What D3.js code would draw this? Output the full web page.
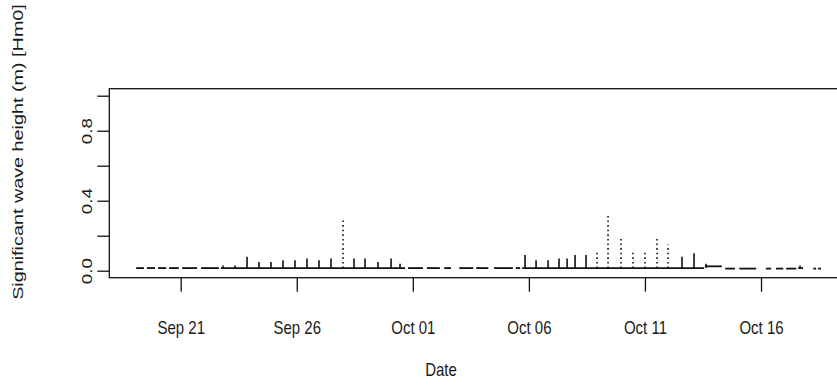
<!DOCTYPE html>
<html>
<head>
<meta charset="utf-8">
<script src="https://cdn.jsdelivr.net/npm/d3@7"></script>
<style>
  body { margin: 0; background: #fff; }
  svg { display: block; }
  text { font-family: "Liberation Sans", Arial, sans-serif; fill: #1a1a1a; }
</style>
</head>
<body>
<svg id="chart" width="837" height="385"></svg>
<script>
const year = 2019;

// Low-water stretches of the record (sensor near the bed, Hm0 ~ 0)
const baseStart = ["09-19 02:00", "09-19 13:00", "09-20 00:30", "09-20 12:00", "09-21 01:30", "09-21 21:00",
                   "09-22 17:30", "09-30 19:00", "10-01 14:30", "10-02 08:30", "10-03 00:00", "10-03 17:30",
                   "10-04 12:00", "10-05 10:30", "10-05 17:00", "10-13 14:00", "10-14 11:00", "10-15 01:30",
                   "10-16 05:00", "10-16 15:30", "10-17 02:00", "10-17 14:30", "10-18 06:00", "10-18 11:00"];
const baseEnd   = ["09-19 10:00", "09-19 21:30", "09-20 09:00", "09-20 22:00", "09-21 17:00", "09-22 15:30",
                   "09-30 16:00", "10-01 10:30", "10-02 04:00", "10-02 15:30", "10-03 14:30", "10-04 06:00",
                   "10-05 07:30", "10-05 15:00", "10-13 13:00", "10-14 07:30", "10-14 21:00", "10-15 19:00",
                   "10-16 10:30", "10-16 23:00", "10-17 12:30", "10-17 19:30", "10-18 09:00", "10-18 14:00"];
const baseLevel = [0.015, 0.015, 0.015, 0.015, 0.015, 0.015,
                   0.015, 0.015, 0.015, 0.015, 0.015, 0.015,
                   0.015, 0.015, 0.015, 0.025, 0.012, 0.012,
                   0.012, 0.012, 0.012, 0.015, 0.012, 0.012];

// High-water bursts: time of the burst and its peak Hm0 (m)
const peakTimes = ["09-22 19:45", "09-23 08:10", "09-23 20:35", "09-24 09:00", "09-24 21:20", "09-25 09:45",
                   "09-25 22:10", "09-26 10:35", "09-26 23:00", "09-27 11:25", "09-27 23:50", "09-28 11:10",
                   "09-28 22:35", "09-29 12:00", "09-30 01:30", "09-30 10:45",
                   "10-05 20:00", "10-06 07:25", "10-06 19:50", "10-07 07:10", "10-07 15:30", "10-07 23:45",
                   "10-08 11:05", "10-08 22:30", "10-09 09:50", "10-09 23:15", "10-10 11:40", "10-11 00:05",
                   "10-11 12:30", "10-11 23:55", "10-12 14:20", "10-13 02:45", "10-13 15:10", "10-17 16:20"];
const peakHeights = [0.03, 0.03, 0.08, 0.05, 0.05, 0.06,
                     0.06, 0.07, 0.06, 0.07, 0.30, 0.07,
                     0.07, 0.05, 0.07, 0.04,
                     0.09, 0.06, 0.06, 0.07, 0.07, 0.09,
                     0.09, 0.12, 0.32, 0.19, 0.12, 0.12,
                     0.19, 0.15, 0.08, 0.10, 0.04, 0.03];

const xTickDates  = ["09-21 00:00", "09-26 00:00", "10-01 00:00", "10-06 00:00", "10-11 00:00", "10-16 00:00"];
const xTickLabels = ["Sep 21", "Sep 26", "Oct 01", "Oct 06", "Oct 11", "Oct 16"];
const yTicks      = [0, 0.2, 0.4, 0.6, 0.8, 1.0];
const yTickLabels = ["0.0", "", "0.4", "", "0.8", ""];

const parse = s => d3.utcParse("%Y-%m-%d %H:%M")(`${year}-${s}`);

const box = { left: 109.3, right: 845, top: 88.7, bottom: 277.7 };
const fontSize = 15;
const stretch = 1.25;   // text is drawn taller than wide

const x = d3.scaleUtc()
  .domain([parse("09-17 22:10"), parse("10-19 14:00")])
  .range([box.left, box.left + 31.66 * 23.212]);
const y = d3.scaleLinear().domain([-0.04, 1.04]).range([box.bottom, box.top]);

const svg = d3.select("#chart");
const ink = "#111";

// series
const series = svg.append("g").attr("stroke", ink).attr("fill", "none");

series.selectAll("line.base")
  .data(baseStart.map((s, i) => ({ s: parse(s), e: parse(baseEnd[i]), v: baseLevel[i] })))
  .join("line")
  .attr("class", "base")
  .attr("x1", d => x(d.s)).attr("x2", d => x(d.e))
  .attr("y1", d => y(d.v)).attr("y2", d => y(d.v))
  .attr("stroke-width", 1.8);

series.selectAll("line.peak")
  .data(peakTimes.map((t, i) => ({ t: parse(t), v: peakHeights[i] })))
  .join("line")
  .attr("class", "peak")
  .attr("x1", d => x(d.t)).attr("x2", d => x(d.t))
  .attr("y1", y(0.015)).attr("y2", d => y(d.v))
  .attr("stroke-width", 1.6)
  .attr("stroke-dasharray", d => d.v > 0.11 ? "1.6,3" : null);

// plot frame
svg.append("rect")
  .attr("x", box.left).attr("y", box.top)
  .attr("width", box.right - box.left).attr("height", box.bottom - box.top)
  .attr("fill", "none").attr("stroke", ink).attr("stroke-width", 1.3);

// x axis
const xAxis = d3.axisBottom(x)
  .tickValues(xTickDates.map(parse))
  .tickFormat((d, i) => xTickLabels[i])
  .tickSize(14).tickSizeOuter(0);
const gx = svg.append("g").attr("transform", `translate(0,${box.bottom})`).call(xAxis);
gx.select(".domain").remove();
gx.selectAll(".tick line").attr("stroke", ink).attr("stroke-width", 1.3);
gx.selectAll(".tick text")
  .attr("font-size", fontSize).attr("fill", "#1a1a1a")
  .attr("y", 0).attr("dy", null)
  .attr("transform", `translate(0,56) scale(1,${stretch})`);

// y axis
const yAxis = d3.axisLeft(y)
  .tickValues(yTicks)
  .tickFormat((d, i) => yTickLabels[i])
  .tickSize(12).tickSizeOuter(0);
const gy = svg.append("g").attr("transform", `translate(${box.left},0)`).call(yAxis);
gy.select(".domain").remove();
gy.selectAll(".tick line").attr("stroke", ink).attr("stroke-width", 1.3);
gy.selectAll(".tick text")
  .attr("font-size", fontSize).attr("fill", "#1a1a1a")
  .attr("x", 0).attr("dy", null)
  .attr("text-anchor", "middle")
  .attr("transform", `translate(-17,0) scale(1,${stretch}) rotate(-90)`);

// axis titles
svg.append("text")
  .attr("transform", `translate(441,376) scale(1,${stretch})`)
  .attr("text-anchor", "middle").attr("font-size", fontSize)
  .text("Date");

svg.append("text")
  .attr("transform", `translate(23,152) scale(1,1.32) rotate(-90)`)
  .attr("text-anchor", "middle").attr("font-size", fontSize)
  .text("Significant wave height (m) [Hm0]");
</script>
</body>
</html>
